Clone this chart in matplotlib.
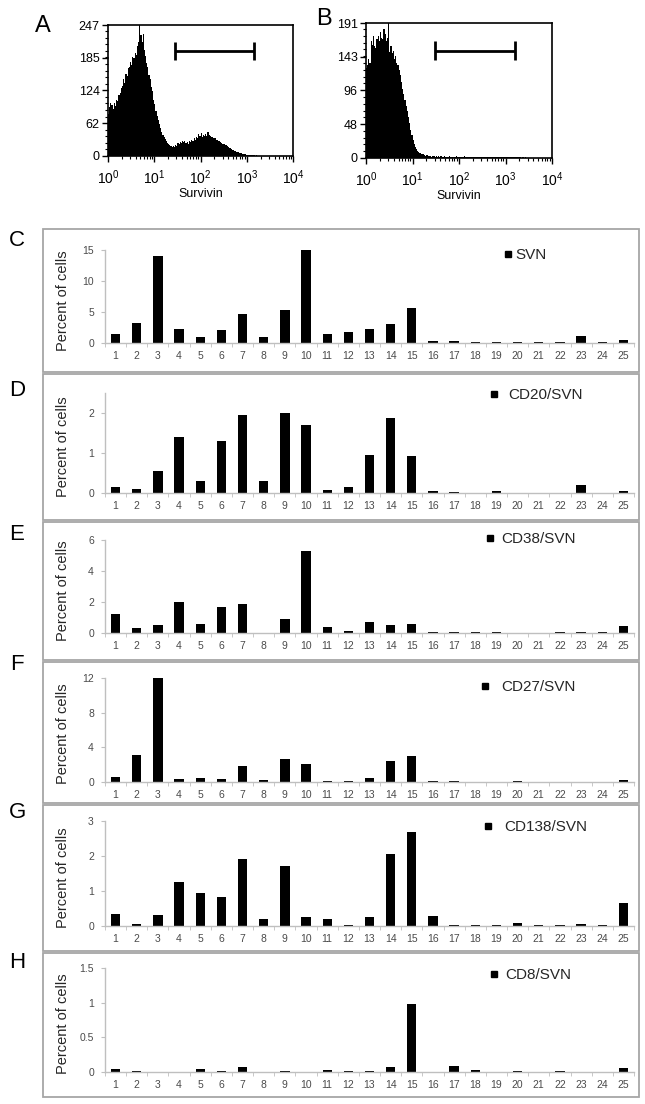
import matplotlib
matplotlib.use('Agg')
import matplotlib.pyplot as plt
import numpy as np
from matplotlib.lines import Line2D
from matplotlib.patches import Rectangle
from matplotlib.ticker import AutoMinorLocator, FixedLocator, LogLocator, NullFormatter, FuncFormatter

plt.rcParams['font.family'] = ['Liberation Sans', 'DejaVu Sans']
plt.rcParams['mathtext.fontset'] = 'custom'
plt.rcParams['mathtext.rm'] = 'Liberation Sans'

# ---------------- data ----------------
# Flow histograms: counts per 0.025-decade channel starting at 10^0
hist_log_start = 0.0
hist_bin_width = 0.025
hist_A = [80, 92, 100, 96, 88, 100, 95, 105, 104, 115,
          118, 128, 132, 145, 138, 155, 150, 165, 168, 178,
          172, 186, 185, 195, 190, 208, 215, 247, 228, 215,
          230, 200, 188, 175, 168, 152, 145, 130, 122, 105,
          98, 85, 76, 68, 60, 52, 46, 40, 36, 32,
          28, 25, 22, 20, 18, 17, 19, 17, 21, 19,
          24, 22, 26, 24, 29, 26, 28, 24, 26, 23,
          28, 26, 31, 29, 33, 31, 36, 34, 42, 38,
          44, 36, 39, 37, 41, 38, 45, 40, 38, 36,
          36, 33, 33, 30, 31, 28, 29, 26, 25, 23,
          23, 20, 20, 18, 17, 15, 14, 12, 12, 10,
          9, 8, 7, 6, 5, 5, 4, 3, 3, 2.5,
          2, 2, 1.5, 1.5, 1, 1, 1, 0.8, 1, 0.8,
          0.8, 0.6, 0.8, 0.6, 0.6, 0.5, 0.6, 0.5, 0.5, 0.5,
          0.4, 0.5, 0.4, 0.4, 0.4, 0.3, 0.4, 0.3, 0.3, 0.3,
          0.3, 0.3, 0.3, 0.3, 0.3, 0.3, 0.3, 0.3, 0.3, 0.3]
hist_B = [128, 132, 140, 135, 165, 160, 172, 158, 155, 168,
          172, 165, 178, 170, 168, 182, 175, 165, 170, 191,
          150, 158, 148, 152, 140, 145, 135, 132, 125, 118,
          108, 98, 90, 82, 74, 66, 58, 50, 40, 32,
          25, 20, 16, 13, 10, 8, 7, 6, 5, 5,
          4, 3, 4, 3, 2.5, 3, 2, 3, 2.5, 2,
          3, 2, 2.5, 2, 3, 2, 2, 2.5, 2, 1.5,
          2, 2.5, 2, 2, 1.5, 2, 2, 2.5, 1.5, 2,
          2, 2, 1.5, 2, 2.5, 1.5, 2, 2, 1.5, 2,
          1.5, 2, 2, 1.5, 2, 1.5, 1.5, 2, 1.5, 1.5,
          2, 1.5, 1.5, 2, 1.5, 1, 1.5, 1.5, 1, 1.5,
          1, 1.5, 1, 1, 1.5, 1, 1, 1, 1.5, 1,
          1, 1, 1, 1, 0.8, 1, 0.8, 1, 0.8, 0.8,
          1, 0.8, 0.8, 0.6, 0.8, 0.8, 0.6, 0.8, 0.6, 0.6,
          0.6, 0.6, 0.5, 0.6, 0.5, 0.5, 0.5, 0.5, 0.5, 0.4,
          0.5, 0.4, 0.4, 0.4, 0.4, 0.3, 0.4, 0.3, 0.3, 0.3]
hist_A_yticks = [0, 62, 124, 185, 247]
hist_B_yticks = [0, 48, 96, 143, 191]
hist_xticks = [1, 10, 100, 1000, 10000]
# gate marker: (low, high, level, cap half-height)
gate_A = (28, 1450, 198, 17)
gate_B = (31, 1600, 152, 13)

categories = [str(i) for i in range(1, 26)]
svn = [1.5, 3.2, 14.1, 2.2, 0.95, 2.05, 4.6, 0.95, 5.3, 15.0,
       1.4, 1.8, 2.2, 3.05, 5.6, 0.35, 0.35, 0.15, 0.2, 0.2,
       0.2, 0.15, 1.15, 0.2, 0.5]
cd20 = [0.15, 0.1, 0.55, 1.4, 0.3, 1.3, 1.95, 0.3, 2.0, 1.7,
        0.07, 0.15, 0.95, 1.87, 0.93, 0.04, 0.02, 0.0, 0.04, 0.0,
        0.0, 0.0, 0.19, 0.0, 0.04]
cd38 = [1.25, 0.3, 0.5, 1.97, 0.58, 1.67, 1.87, 0.0, 0.92, 5.3,
        0.36, 0.15, 0.68, 0.51, 0.6, 0.09, 0.06, 0.09, 0.04, 0.0,
        0.0, 0.06, 0.09, 0.09, 0.45]
cd27 = [0.58, 3.15, 12.0, 0.3, 0.5, 0.3, 1.85, 0.23, 2.7, 2.08,
        0.08, 0.08, 0.46, 2.38, 3.0, 0.08, 0.15, 0.0, 0.0, 0.08,
        0.0, 0.0, 0.0, 0.0, 0.19]
cd138 = [0.33, 0.07, 0.31, 1.26, 0.95, 0.83, 1.92, 0.19, 1.71, 0.27,
         0.19, 0.03, 0.25, 2.07, 2.7, 0.28, 0.03, 0.02, 0.04, 0.08,
         0.03, 0.02, 0.06, 0.02, 0.66]
cd8 = [0.04, 0.015, 0.0, 0.0, 0.05, 0.015, 0.065, 0.0, 0.015, 0.0,
       0.03, 0.015, 0.015, 0.065, 0.98, 0.0, 0.085, 0.03, 0.0, 0.015,
       0.0, 0.015, 0.0, 0.0, 0.06]

series_labels = ['SVN', 'CD20/SVN', 'CD38/SVN', 'CD27/SVN', 'CD138/SVN', 'CD8/SVN']
panel_letters = ['C', 'D', 'E', 'F', 'G', 'H']
y_limits = [15, 2.5, 6, 12, 3, 1.5]
y_ticks = [[0, 5, 10, 15], [0, 1, 2], [0, 2, 4, 6], [0, 4, 8, 12], [0, 1, 2, 3], [0, 0.5, 1, 1.5]]

# ---------------- layout (pixels) ----------------
W, H = 645, 1104
fig = plt.figure(figsize=(W / 100, H / 100), dpi=100)


def fx(x):
    return x / W


def fy(y):
    return 1 - y / H


def rect(l, t, r, b):
    return [l / W, 1 - b / H, (r - l) / W, (b - t) / H]


# ---------------- histograms ----------------
hist_specs = [
    (hist_A, hist_A_yticks, gate_A, (108, 25, 293, 156), 'A', (43, 26)),
    (hist_B, hist_B_yticks, gate_B, (366, 23, 552, 158), 'B', (324, 19)),
]
for vals, yt, gate, box, letter, lpos in hist_specs:
    ax = fig.add_axes(rect(*box))
    edges = 10 ** (hist_log_start + hist_bin_width * np.arange(len(vals) + 1))
    ax.stairs(vals, edges, fill=True, color='black', linewidth=0)
    ax.set_xscale('log')
    ax.set_xlim(hist_xticks[0], hist_xticks[-1])
    ax.set_ylim(0, yt[-1])
    ax.set_yticks(yt)
    ax.set_yticklabels([str(v) for v in yt])
    ax.yaxis.set_minor_locator(AutoMinorLocator(5))
    ax.set_xticks(hist_xticks)
    ax.set_xticklabels([r'$\mathregular{10^{%d}}$' % int(np.log10(v)) for v in hist_xticks])
    ax.xaxis.set_minor_locator(LogLocator(base=10, subs=np.arange(2, 10), numticks=20))
    ax.xaxis.set_minor_formatter(NullFormatter())
    ax.tick_params(axis='y', which='major', direction='out', length=4, width=1,
                   labelsize=9, pad=2, color='black')
    ax.tick_params(axis='x', which='major', direction='out', length=4, width=1,
                   labelsize=10, pad=5, color='black')
    ax.tick_params(axis='both', which='minor', direction='out', length=2, width=0.8, color='black')
    for s in ax.spines.values():
        s.set_linewidth(1.2)
    lo, hi, lev, cap = gate
    ax.hlines(lev, lo, hi, color='black', linewidth=2)
    ax.vlines([lo, hi], lev - cap, lev + cap, color='black', linewidth=2)
    ax.set_xlabel('Survivin', fontsize=9, labelpad=1)
    fig.text(fx(lpos[0]), fy(lpos[1]), letter, fontsize=17, ha='center', va='center')

# ---------------- bar panels ----------------
series = [svn, cd20, cd38, cd27, cd138, cd8]
frames = [(229, 372), (374, 520), (522, 660), (662, 803), (805, 951), (953, 1097)]
axes_tb = [(250, 343), (393, 493), (540, 633), (678, 782), (821, 926), (968, 1072)]
letter_y = [240, 390, 535, 665, 813, 963]
legend_pos = [(508, 255, 7), (494, 395, 14), (490, 539, 11), (485, 687, 16), (488, 827, 16), (494, 975, 11)]

x = np.arange(1, len(categories) + 1)
axis_gray = '#bfbfbf'
label_gray = '#4a4a4a'
for i, vals in enumerate(series):
    ft, fb = frames[i]
    fig.add_artist(Rectangle((fx(43), fy(fb)), (639 - 43) / W, (fb - ft) / H,
                             transform=fig.transFigure, fill=False,
                             edgecolor='#a6a6a6', linewidth=1.3))
    at, ab = axes_tb[i]
    ax = fig.add_axes(rect(105, at, 634, ab))
    ax.bar(x, vals, width=0.44, color='black')
    ax.set_xlim(0.5, len(categories) + 0.5)
    ax.set_ylim(0, y_limits[i])
    ax.set_yticks(y_ticks[i])
    ax.yaxis.set_major_formatter(FuncFormatter(lambda v, p: '%g' % v))
    ax.set_xticks(x)
    ax.set_xticklabels(categories)
    ax.xaxis.set_minor_locator(FixedLocator(np.arange(0.5, len(categories) + 1, 1.0)))
    for side in ['top', 'right']:
        ax.spines[side].set_visible(False)
    for side in ['left', 'bottom']:
        ax.spines[side].set_color(axis_gray)
        ax.spines[side].set_linewidth(1)
    ax.tick_params(axis='y', which='major', direction='out', length=3, color=axis_gray,
                   labelsize=7.5, labelcolor=label_gray, pad=5)
    ax.tick_params(axis='x', which='major', length=0, labelsize=7.5, labelcolor=label_gray, pad=6)
    ax.tick_params(axis='x', which='minor', direction='out', length=3, color=axis_gray)
    ax.set_facecolor('none')
    fig.text(fx(63), fy((at + ab) / 2 + 4), 'Percent of cells', rotation=90,
             fontsize=10.5, ha='center', va='center', color='#262626')
    fig.text(fx(17), fy(letter_y[i]), panel_letters[i], fontsize=16, ha='center', va='center')
    sqx, ly, gap = legend_pos[i]
    fs = 11
    pxem = fs * 100 / 72
    hl = 0.5
    handle = Line2D([], [], marker='s', linestyle='', color='black', markersize=4.5)
    ax.legend([handle], [series_labels[i]], loc='center left',
              bbox_to_anchor=(fx(sqx - hl * pxem / 2), fy(ly)), bbox_transform=fig.transFigure,
              frameon=False, fontsize=fs, handlelength=hl,
              handletextpad=max(gap - hl * pxem / 2, 0) / pxem,
              borderpad=0, borderaxespad=0, labelcolor='#262626')

fig.savefig('out.png', dpi=100)
